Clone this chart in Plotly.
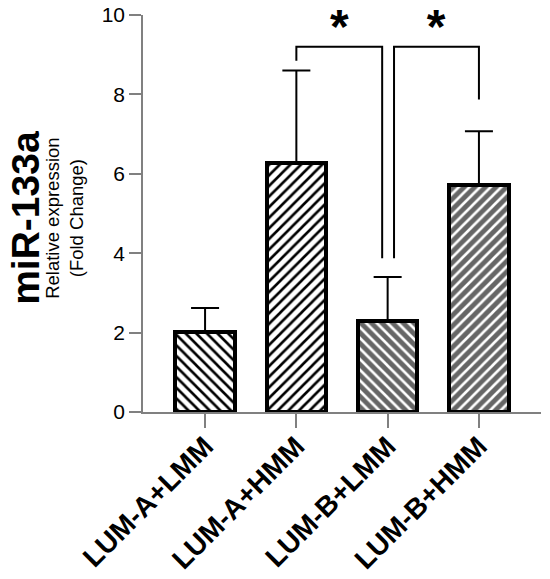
import plotly.graph_objects as go

# data
groups = ["LUM-A+LMM", "LUM-A+HMM", "LUM-B+LMM", "LUM-B+HMM"]
means = [2.02, 6.27, 2.28, 5.71]
sem = [0.60, 2.33, 1.12, 1.36]
hatch = ["\\", "/", "\\", "/"]
back = ["white", "white", "#666666", "#666666"]
stripe = ["black", "black", "white", "white"]

# significance brackets (x in group index units, y in fold change)
bracket_1_x = [1.0, 1.0, 1.94, 1.94]
bracket_1_y = [8.85, 9.2, 9.2, 3.87]
bracket_2_x = [2.07, 2.07, 3.0, 3.0]
bracket_2_y = [3.87, 9.2, 9.2, 7.87]
star_x = [1.47, 2.53]
star_y = [9.6, 9.6]

font = "Arial, Liberation Sans, sans-serif"
xpos = list(range(len(groups)))

fig = go.Figure()
for i in xpos:
    fig.add_trace(go.Bar(
        x=[xpos[i]], y=[means[i]], width=0.65,
        marker=dict(color=back[i], line=dict(color="black", width=4),
                    pattern=dict(shape=hatch[i], bgcolor=back[i], fgcolor=stripe[i],
                                 size=7.5, solidity=0.35, fillmode="replace")),
        error_y=dict(type="data", array=[sem[i]], arrayminus=[0], symmetric=False,
                     color="black", thickness=2, width=14),
        showlegend=False,
    ))

for bx, by in [(bracket_1_x, bracket_1_y), (bracket_2_x, bracket_2_y)]:
    fig.add_trace(go.Scatter(x=bx, y=by, mode="lines", line=dict(color="black", width=2),
                             showlegend=False, hoverinfo="skip"))

fig.add_trace(go.Scatter(x=star_x, y=star_y, mode="text", text=["<b>*</b>"] * 2,
                         textfont=dict(size=48, color="black", family=font),
                         textposition="middle center", cliponaxis=False, showlegend=False))

fig.update_layout(
    width=550, height=579,
    margin=dict(l=143, r=9, t=15, b=167),
    plot_bgcolor="white", paper_bgcolor="white",
    font=dict(family=font, color="black"),
    bargap=0,
    xaxis=dict(range=[-0.68, 3.68], tickvals=xpos, ticktext=["<b>%s</b>" % g for g in groups],
               tickangle=-45, tickfont=dict(size=28, color="black"), automargin=False,
               ticklabelstandoff=-9,
               showline=True, linecolor="#808080", linewidth=1.5,
               ticks="outside", ticklen=14, tickcolor="#808080", tickwidth=1.5,
               showgrid=False, zeroline=False),
    yaxis=dict(range=[0, 10], tickvals=[0, 2, 4, 6, 8, 10], automargin=False,
               tickfont=dict(size=21, color="black"), ticklabeloverflow="allow",
               showline=True, linecolor="#808080", linewidth=1.5,
               ticks="outside", ticklen=12, tickcolor="#808080", tickwidth=1.5,
               showgrid=False, zeroline=False),
)

fig.add_annotation(xref="paper", yref="paper", x=-0.294, y=0.489, xanchor="center", yanchor="middle",
                   text="<b>miR-133a</b>", textangle=-90, showarrow=False,
                   font=dict(size=39, color="black", family=font))
fig.add_annotation(xref="paper", yref="paper", x=-0.196, y=0.489, xanchor="center", yanchor="middle",
                   text="Relative expression<br>(Fold Change)", textangle=-90, showarrow=False,
                   font=dict(size=18.5, color="black", family=font))

# drop the browser's default 8px body margin so the figure sits at the page corner
fig.write_html("out.html", config={"displayModeBar": False},
               post_script="document.body.style.margin = '0px';")
